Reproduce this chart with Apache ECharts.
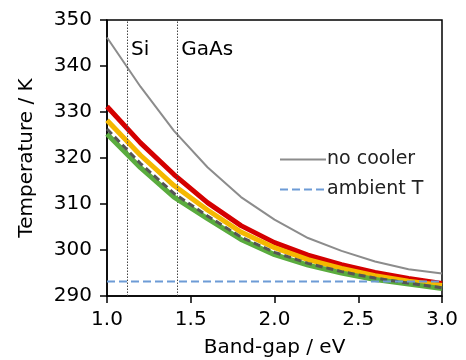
<!DOCTYPE html>
<html>
<head>
<meta charset="utf-8">
<script src="https://cdn.jsdelivr.net/npm/echarts@6/dist/echarts.min.js"></script>
<style>html,body{margin:0;padding:0;background:#fff}#c{width:466px;height:360px}</style>
</head>
<body>
<div id="c"></div>
<script>
var bandGap = [1.0, 1.2, 1.4, 1.6, 1.8, 2.0, 2.2, 2.4, 2.6, 2.8, 3.0];
var noCooler = [346.2, 335.5, 325.9, 318.0, 311.5, 306.6, 302.6, 299.8, 297.5, 295.8, 294.9];
var redCurve = [331.2, 323.3, 316.4, 310.3, 305.3, 301.6, 298.9, 296.8, 295.1, 293.8, 292.7];
var orangeCurve = [328.2, 320.6, 314.0, 308.7, 303.9, 300.5, 297.9, 296.0, 294.4, 293.2, 292.3];
var darkDashed = [326.3, 318.8, 312.3, 307.4, 302.8, 299.5, 297.1, 295.3, 293.9, 292.8, 291.8];
var greenCurve = [325.2, 317.9, 311.5, 306.8, 302.3, 299.0, 296.7, 295.0, 293.6, 292.6, 291.6];
var ambientX = [1.0, 3.0];
var ambientT = [293.15, 293.15];
var materials = ['Si', 'GaAs'];
var materialGaps = [1.12, 1.42];
var labelTemp = 343.5;
var xTicks = [1.0, 1.5, 2.0, 2.5, 3.0];
var yTicks = [290, 300, 310, 320, 330, 340, 350];

function pairs(xs, ys) { return xs.map(function (x, i) { return [x, ys[i]]; }); }

var FONT = 'DejaVu Sans';
var SOLID_ICON = 'path://M0,0H46V2H0Z';
var DASH_ICON = 'path://M0,0H8V2H0Z M12,0H20V2H12Z M24,0H32V2H24Z M36,0H44V2H36Z M46,0H46.01V2H46Z';

var chart = echarts.init(document.getElementById('c'), null, {renderer: 'canvas'});
chart.setOption({
  animation: false,
  backgroundColor: '#fff',
  textStyle: {fontFamily: FONT},
  grid: {left: 107, right: 24, top: 20, bottom: 64, outerBoundsMode: 'none', containLabel: false,
         show: true, borderColor: '#000', borderWidth: 1.5, backgroundColor: 'transparent'},
  legend: {
    show: true,
    data: [{name: 'no cooler', icon: SOLID_ICON}, {name: 'ambient T', icon: DASH_ICON}],
    orient: 'vertical',
    left: 275, top: 145,
    itemWidth: 46, itemHeight: 2, itemGap: 11,
    textStyle: {fontFamily: FONT, fontSize: 19, color: '#222', padding: [0, 0, 0, -4]}
  },
  xAxis: {
    type: 'value', min: xTicks[0], max: xTicks[xTicks.length - 1], interval: 0.5,
    name: 'Band-gap / eV', nameLocation: 'middle', nameGap: 42,
    nameTextStyle: {fontFamily: FONT, fontSize: 20, color: '#000'},
    axisLine: {show: true, lineStyle: {color: '#000', width: 1.5}},
    axisTick: {show: true, inside: false, length: 7, lineStyle: {color: '#000', width: 1.5}},
    axisLabel: {fontFamily: FONT, fontSize: 20, color: '#000', margin: 14, formatter: function (v) { return v.toFixed(1); }},
    splitLine: {show: false}
  },
  yAxis: {
    type: 'value', min: yTicks[0], max: yTicks[yTicks.length - 1], interval: 10,
    name: 'Temperature / K', nameLocation: 'middle', nameGap: 70, nameRotate: 90,
    nameTextStyle: {fontFamily: FONT, fontSize: 20, color: '#000'},
    axisLine: {show: true, lineStyle: {color: '#000', width: 1.5}},
    axisTick: {show: true, inside: false, length: 7, lineStyle: {color: '#000', width: 1.5}},
    axisLabel: {fontFamily: FONT, fontSize: 20, color: '#000', margin: 15},
    splitLine: {show: false}
  },
  series: [
    {
      name: 'no cooler', type: 'line', symbol: 'none', z: 2,
      data: pairs(bandGap, noCooler),
      lineStyle: {color: '#8c8c8c', width: 2}, itemStyle: {color: '#8c8c8c'},
      markLine: {
        silent: true, symbol: 'none', label: {show: false},
        lineStyle: {color: '#444', width: 1, type: [1.5, 1.5]},
        data: materialGaps.map(function (g) { return {xAxis: g}; })
      }
    },
    {
      name: 'red', type: 'line', symbol: 'none', z: 3,
      data: pairs(bandGap, redCurve),
      lineStyle: {color: '#d40000', width: 5}
    },
    {
      name: 'orange', type: 'line', symbol: 'none', z: 4,
      data: pairs(bandGap, orangeCurve),
      lineStyle: {color: '#f5b800', width: 5}
    },
    {
      name: 'green', type: 'line', symbol: 'none', z: 5,
      data: pairs(bandGap, greenCurve),
      lineStyle: {color: '#5aac3e', width: 5}
    },
    {
      name: 'dark', type: 'line', symbol: 'none', z: 6,
      data: pairs(bandGap, darkDashed),
      lineStyle: {color: '#555555', width: 3, type: [7, 4]}
    },
    {
      name: 'ambient T', type: 'line', symbol: 'none', z: 7,
      data: pairs(ambientX, ambientT),
      lineStyle: {color: '#6d9bd6', width: 2, type: [8, 4]}, itemStyle: {color: '#6d9bd6'}
    },
    {
      name: 'materials', type: 'scatter', symbolSize: 0, z: 8, silent: true,
      itemStyle: {opacity: 1, color: '#000'},
      data: materials.map(function (m, i) { return {name: m, value: [materialGaps[i], labelTemp]}; }),
      label: {show: true, position: 'right', distance: 4, formatter: '{b}', fontFamily: FONT, fontSize: 20, color: '#000', opacity: 1}
    }
  ]
});
</script>
</body>
</html>
